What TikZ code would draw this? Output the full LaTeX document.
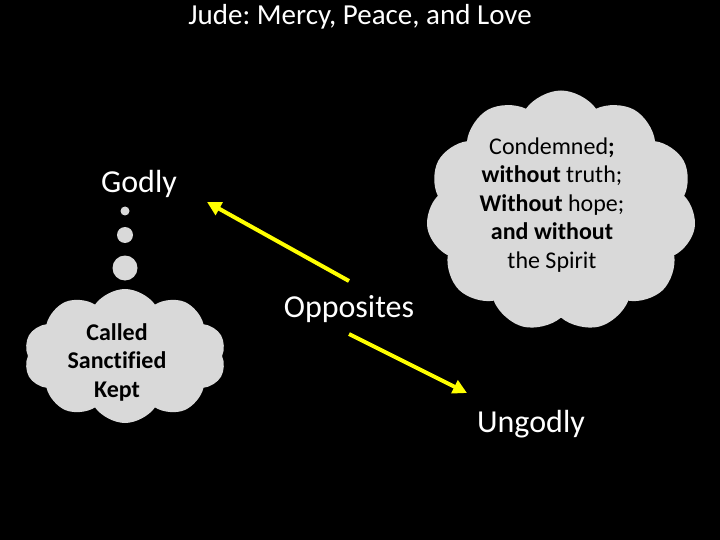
\documentclass[tikz,border=0pt]{standalone}
\usepackage{fontspec}
\setmainfont{Carlito}[Ligatures=NoCommon]
\usetikzlibrary{shapes.symbols,arrows.meta}
\definecolor{cloudgray}{HTML}{D9D9D9}
\definecolor{arrowyellow}{HTML}{FFFF00}
\tikzset{
  cloudbox/.style={cloud, cloud puffs=11, cloud puff arc=110, fill=cloudgray, draw=none, inner sep=0pt},
  bubble/.style={circle, fill=cloudgray, draw=none, inner sep=0pt},
  bigtext/.style={text=white, font=\fontsize{32}{38}\selectfont, inner sep=0pt},
  cloudtext/.style={text=black, font=\fontsize{24}{28.5}\selectfont, align=center, inner sep=0pt},
  yarrow/.style={draw=arrowyellow, line width=4pt, -{Triangle[length=14pt,width=14pt]}}
}
\frenchspacing
\begin{document}
\begin{tikzpicture}[x=1pt,y=-1pt]
\fill[black] (0,0) rectangle (720,540);
\useasboundingbox (0,0) rectangle (720,540);
% title
\node[text=white, font=\fontsize{29}{34}\selectfont, inner sep=0pt, anchor=base] (title) at (360,25) {Jude: Mercy, Peace, and Love};
% right cloud
\node[cloudbox, minimum width=270pt, minimum height=241pt] (cloudR) at (561,211) {};
\node[cloudtext] (textR) at (552,205) {Condemned\textbf{;}\\ \textbf{without} truth;\\ \textbf{Without} hope;\\ \textbf{and without}\\ the Spirit};
% left cloud
\node[cloudbox, cloud puffs=10, minimum width=202pt, minimum height=134pt] (cloudL) at (125,356) {};
\node[cloudtext, font=\bfseries\fontsize{24}{28.5}\selectfont] (textL) at (117,362) {Called\\ Sanctified\\ Kept};
% bubbles
\node[bubble, minimum size=9pt] (b1) at (125,211) {};
\node[bubble, minimum size=16pt] (b2) at (125,235) {};
\node[bubble, minimum size=25pt] (b3) at (125,268) {};
% labels
\node[bigtext, anchor=base] (godly) at (139,193) {Godly};
\node[bigtext, anchor=base] (opp) at (349,317) {Opposites};
\node[bigtext, anchor=base] (ungodly) at (531,432) {Ungodly};
% arrows
\coordinate (a1s) at (349,281);
\coordinate (a1e) at (207,202);
\coordinate (a2s) at (349,334);
\coordinate (a2e) at (467,393);
\draw[yarrow] (a1s) -- (a1e);
\draw[yarrow] (a2s) -- (a2e);
\end{tikzpicture}
\end{document}
